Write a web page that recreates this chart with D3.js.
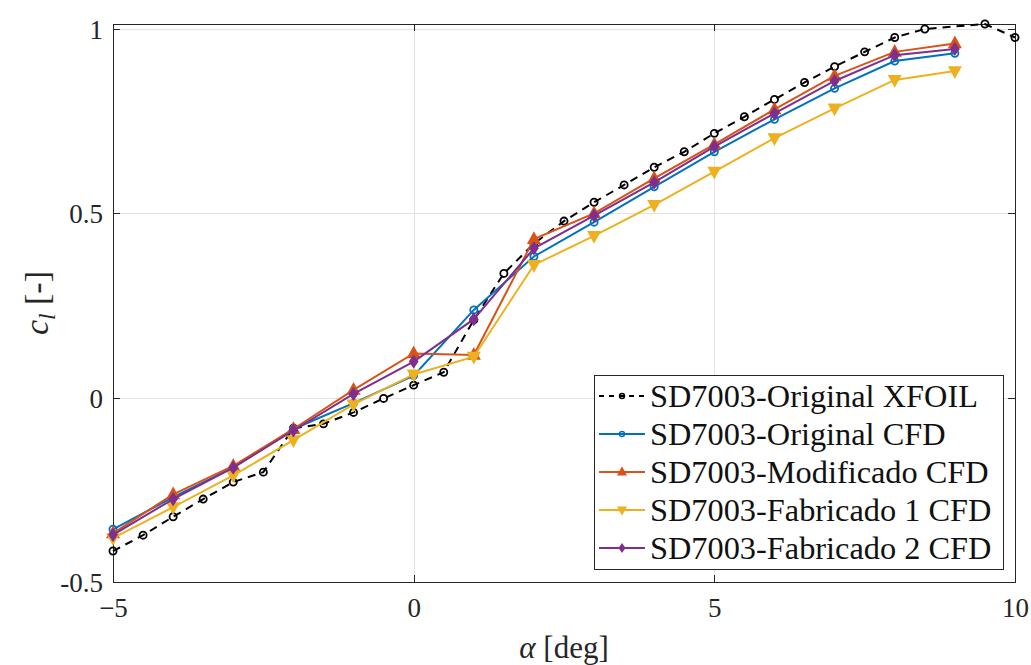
<!DOCTYPE html>
<html>
<head>
<script src="https://cdnjs.cloudflare.com/ajax/libs/d3/7.8.5/d3.min.js"></script>
<style type='text/css'>
body {
  margin: 0;
  background: white;
}
svg {
  display: block;
}
.grid line {
  stroke: #e3e3e3;
  stroke-width: 1;
  shape-rendering: crispEdges;
}
.frame {
  fill: none;
  stroke: #262626;
  stroke-width: 1;
  shape-rendering: crispEdges;
}
.tick line {
  stroke: #262626;
  shape-rendering: crispEdges;
}
</style>
</head>
<body>
<div id="plot1"></div>
<script type='text/javascript'>
// angle of attack for the CFD runs
var alphaCFD = [-5, -4, -3, -2, -1, 0, 1, 2, 3, 4, 5, 6, 7, 8, 9];
// XFOIL polar (alpha 9 missing in the picture)
var alphaXfoil = [-5, -4.5, -4, -3.5, -3, -2.5, -2, -1.5, -1, -0.5, 0, 0.5, 1, 1.5, 2, 2.5,
                  3, 3.5, 4, 4.5, 5, 5.5, 6, 6.5, 7, 7.5, 8, 8.5, 9.5, 10];
var clXfoil = [-0.416, -0.373, -0.323, -0.275, -0.229, -0.202, -0.083, -0.071, -0.040, -0.002,
               0.034, 0.069, 0.211, 0.337, 0.418, 0.479, 0.530, 0.577, 0.625, 0.667,
               0.717, 0.762, 0.809, 0.855, 0.898, 0.938, 0.977, 1.000, 1.0136, 0.977];
var clOriginal  = [-0.357, -0.270, -0.190, -0.085, -0.015, 0.060, 0.238, 0.383, 0.476, 0.572, 0.667, 0.755, 0.839, 0.913, 0.934];
var clModif     = [-0.368, -0.262, -0.185, -0.085, 0.021, 0.120, 0.116, 0.430, 0.500, 0.595, 0.687, 0.782, 0.873, 0.938, 0.961];
var clFab1      = [-0.381, -0.297, -0.211, -0.115, -0.018, 0.063, 0.111, 0.360, 0.439, 0.523, 0.613, 0.704, 0.785, 0.862, 0.886];
var clFab2      = [-0.372, -0.275, -0.190, -0.089, 0.010, 0.098, 0.213, 0.405, 0.494, 0.584, 0.681, 0.771, 0.859, 0.929, 0.946];

var seriesNames = ["SD7003-Original XFOIL", "SD7003-Original CFD", "SD7003-Modificado CFD",
                   "SD7003-Fabricado 1 CFD", "SD7003-Fabricado 2 CFD"];
var xTicks = [-5, 0, 5, 10];
var yTicks = [-0.5, 0, 0.5, 1];
var yTickLabels = ["-0.5", "0", "0.5", "1"];

var width = 1031, height = 665;
var box = {left: 113, right: 1015, top: 24, bottom: 582};
var serif = "'Liberation Serif', 'DejaVu Serif', 'Times New Roman', serif";

var svg = d3.select("div#plot1").append("svg")
    .attr("width", width)
    .attr("height", height)
    .attr("font-family", serif);

var xsc = d3.scaleLinear().domain([-5, 10]).range([box.left, box.right]);
var ysc = d3.scaleLinear().domain([-0.5, 1.0136]).range([box.bottom, box.top]);

// grid
var grid = svg.append("g").attr("class", "grid");
grid.selectAll("line.gx").data(xTicks).enter().append("line")
    .attr("x1", d => Math.round(xsc(d)) + 0.5).attr("x2", d => Math.round(xsc(d)) + 0.5)
    .attr("y1", box.top).attr("y2", box.bottom);
grid.selectAll("line.gy").data(yTicks).enter().append("line")
    .attr("y1", d => Math.round(ysc(d)) + 0.5).attr("y2", d => Math.round(ysc(d)) + 0.5)
    .attr("x1", box.left).attr("x2", box.right);

// axes with inward ticks, all four sides
var tickLen = 7;
var xAxis = d3.axisBottom(xsc).tickValues(xTicks).tickSize(-tickLen).tickPadding(16).tickFormat(d3.format("d"));
var yAxis = d3.axisLeft(ysc).tickValues(yTicks).tickSize(-tickLen).tickPadding(10)
    .tickFormat((d, i) => yTickLabels[i]);
var gx = svg.append("g").attr("transform", "translate(0," + box.bottom + ")").call(xAxis);
var gy = svg.append("g").attr("transform", "translate(" + box.left + ",0)").call(yAxis);
svg.append("g").attr("transform", "translate(0," + box.top + ")")
    .call(d3.axisTop(xsc).tickValues(xTicks).tickSize(-tickLen).tickFormat(""));
svg.append("g").attr("transform", "translate(" + box.right + ",0)")
    .call(d3.axisRight(ysc).tickValues(yTicks).tickSize(-tickLen).tickFormat(""));
svg.selectAll(".domain").remove();
svg.selectAll("g").attr("font-family", null);
svg.selectAll(".tick text").style("font-family", serif).style("font-size", "27px").attr("fill", "#262626");
gy.selectAll("text").attr("dy", "0.35em");

svg.append("rect").attr("class", "frame")
    .attr("x", box.left + 0.5).attr("y", box.top + 0.5)
    .attr("width", box.right - box.left).attr("height", box.bottom - box.top);

// axis labels
svg.append("text")
    .attr("x", xsc(2.5)).attr("y", 658)
    .attr("text-anchor", "middle")
    .style("font-family", serif)
    .style("font-size", "31px")
    .attr("fill", "#262626")
    .html("<tspan font-style='italic'>α</tspan> [deg]");
svg.append("text")
    .attr("transform", "translate(48," + ((box.top + box.bottom) / 2) + ") rotate(-90)")
    .attr("text-anchor", "middle")
    .style("font-family", serif)
    .style("font-size", "34px")
    .attr("fill", "#262626")
    .html("<tspan font-style='italic'>c</tspan><tspan font-style='italic' font-size='23px' dy='7'>l</tspan><tspan dy='-7'> [-]</tspan>");

// series
var series = [
  {name: seriesNames[0], x: alphaXfoil, y: clXfoil, color: "#000000", marker: "circle", dash: "8,6", fill: "none"},
  {name: seriesNames[1], x: alphaCFD, y: clOriginal, color: "#0072BD", marker: "circle", dash: null, fill: "none"},
  {name: seriesNames[2], x: alphaCFD, y: clModif, color: "#D95319", marker: "up", dash: null, fill: "#D95319"},
  {name: seriesNames[3], x: alphaCFD, y: clFab1, color: "#EDB120", marker: "down", dash: null, fill: "#EDB120"},
  {name: seriesNames[4], x: alphaCFD, y: clFab2, color: "#7E2F8E", marker: "diamond", dash: null, fill: "#7E2F8E"}
];

function markerPath(kind) {
  if (kind == "circle") return d3.symbol(d3.symbolCircle, 40)();
  if (kind == "up") return "M0,-6L5.5,4L-5.5,4Z";
  if (kind == "down") return "M0,6L5.5,-4L-5.5,-4Z";
  return "M0,-5.5L3.8,0L0,5.5L-3.8,0Z";
}

var line = d3.line().x(d => xsc(d[0])).y(d => ysc(d[1]));
var plot = svg.append("g");
series.forEach(function(s) {
  var pts = s.x.map((a, i) => [a, s.y[i]]);
  var g = plot.append("g");
  g.append("path").datum(pts)
    .attr("d", line)
    .attr("fill", "none")
    .attr("stroke", s.color)
    .attr("stroke-width", 2)
    .attr("stroke-dasharray", s.dash);
  g.selectAll("path.m").data(pts).enter().append("path")
    .attr("class", "m")
    .attr("transform", d => "translate(" + xsc(d[0]) + "," + ysc(d[1]) + ")")
    .attr("d", markerPath(s.marker))
    .attr("fill", s.fill)
    .attr("stroke", s.color)
    .attr("stroke-width", 1.8);
});

// legend
var leg = svg.append("g").attr("transform", "translate(594,375)");
leg.append("rect")
  .attr("x", 0.5).attr("y", 0.5).attr("width", 409).attr("height", 194)
  .attr("fill", "white").attr("stroke", "#262626").attr("stroke-width", 1);
var legText = [];
series.forEach(function(s, i) {
  var yy = 21 + i * 38;
  leg.append("line")
    .attr("x1", 5).attr("x2", 51).attr("y1", yy).attr("y2", yy)
    .attr("stroke", s.color).attr("stroke-width", 2)
    .attr("stroke-dasharray", s.dash ? "5,5" : null);
  leg.append("path")
    .attr("transform", "translate(28," + yy + ") scale(0.7)")
    .attr("d", markerPath(s.marker))
    .attr("fill", s.fill).attr("stroke", s.color).attr("stroke-width", 2);
  legText.push(leg.append("text")
    .attr("x", 56).attr("y", yy).attr("dy", "0.35em")
    .style("font-family", serif)
    .style("font-size", "32px")
    .attr("fill", "#111")
    .text(s.name));
});
// fit legend font so the first entry spans about the same width as in the figure
var w0 = legText[0].node().getComputedTextLength();
var fs = Math.min(34, 32 * 328 / w0);
legText.forEach(t => t.style("font-size", fs + "px"));
</script>
</body>
</html>
